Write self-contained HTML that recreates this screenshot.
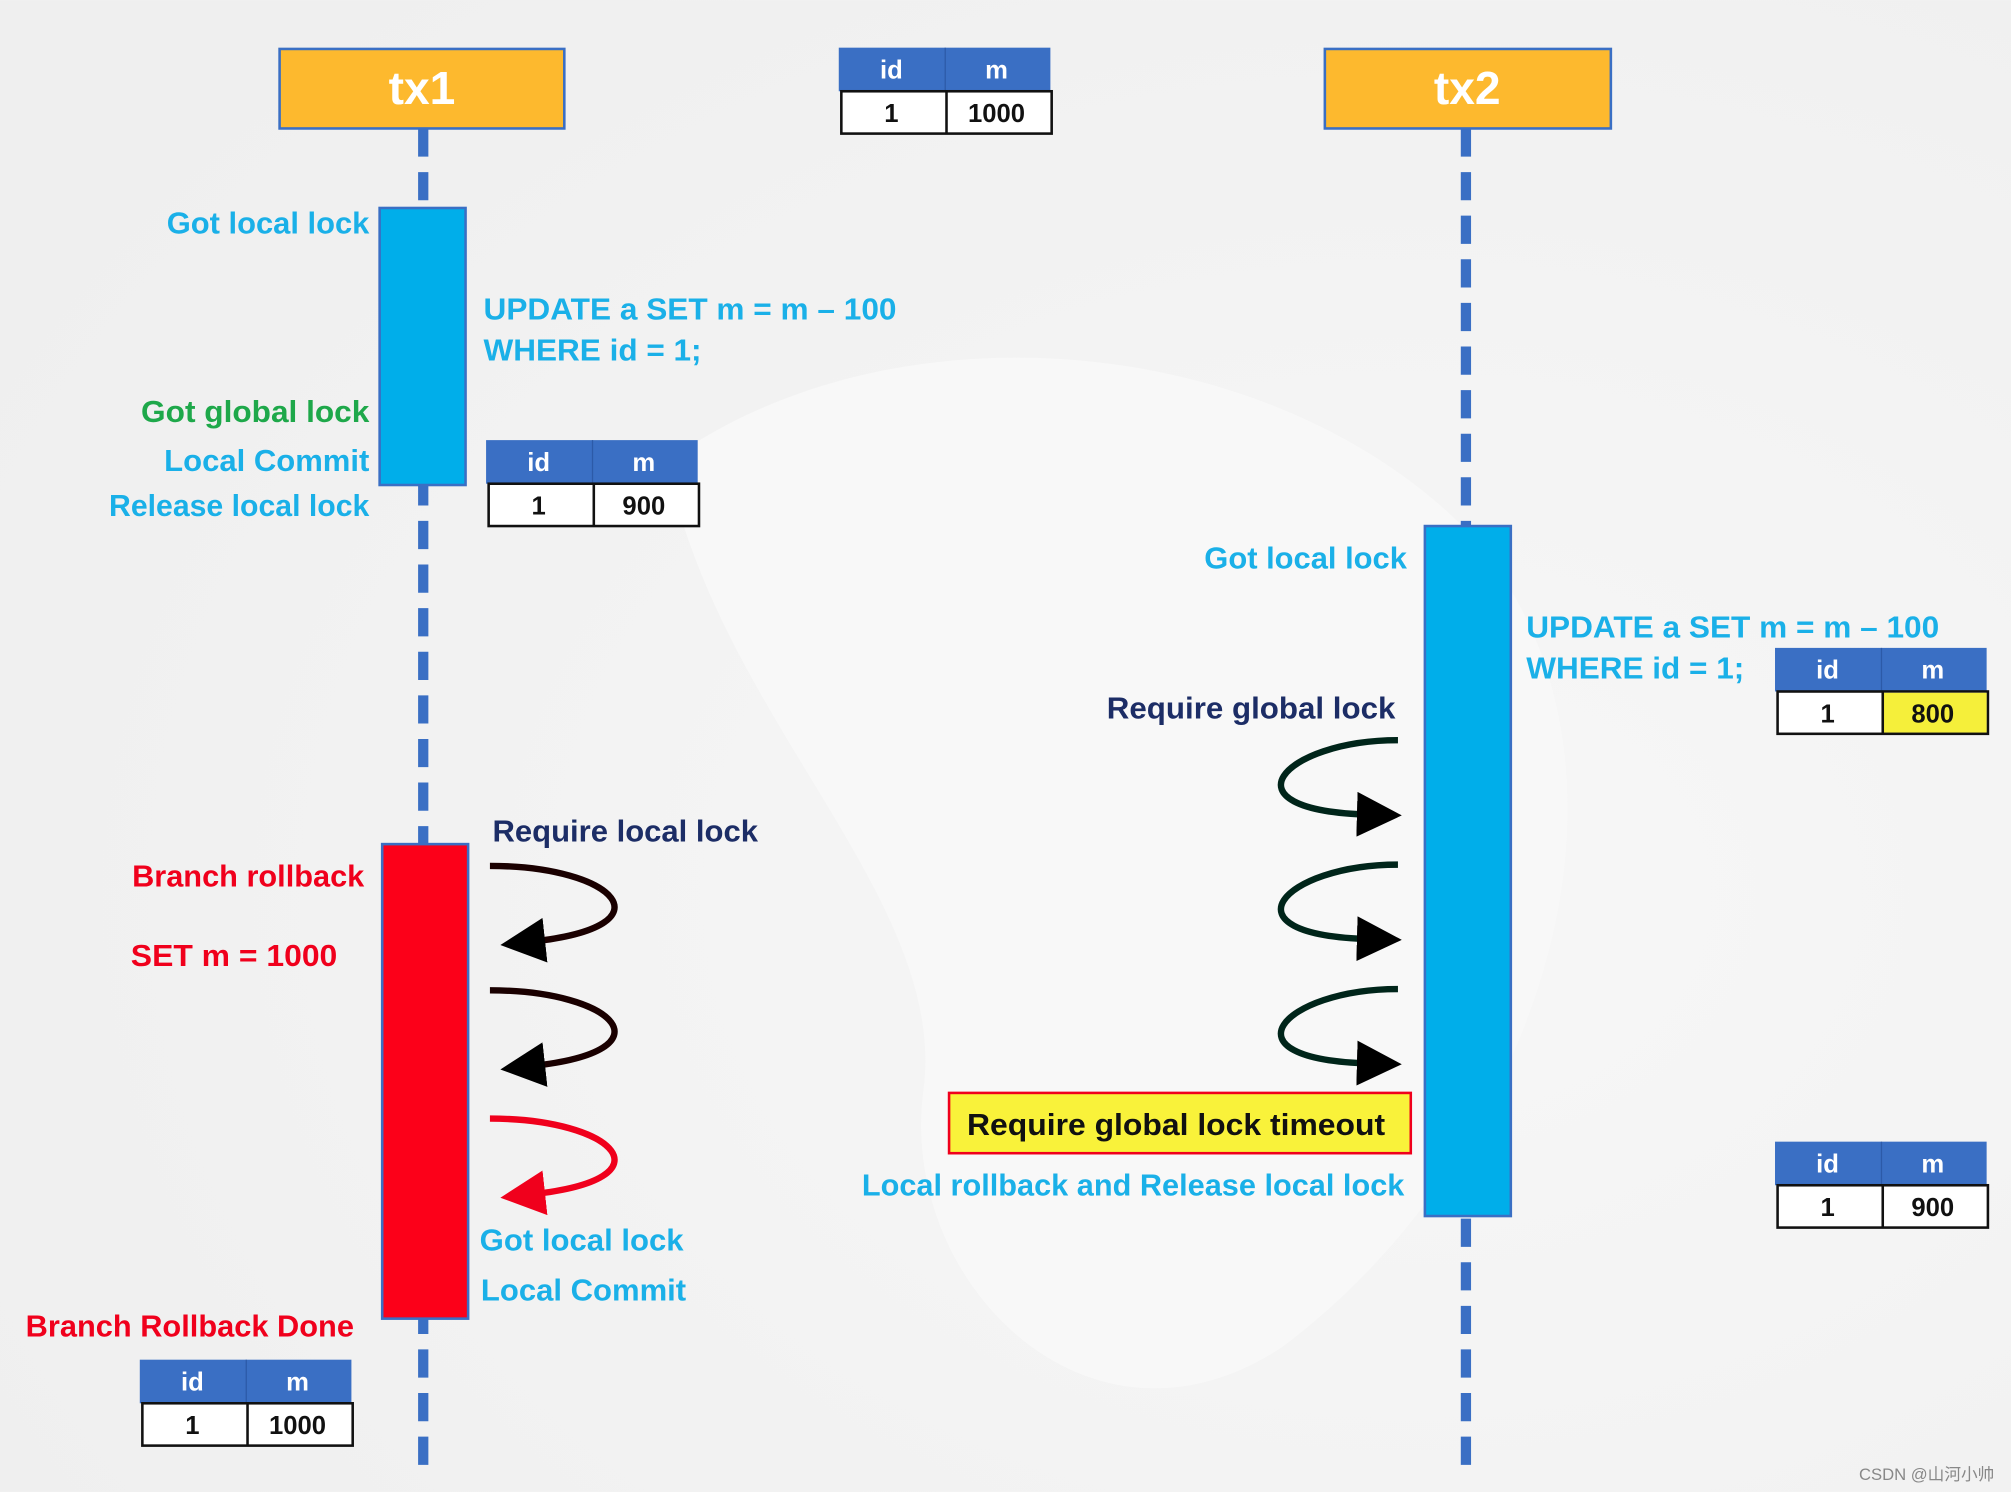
<!DOCTYPE html>
<html><head><meta charset="utf-8"><style>
html,body{margin:0;padding:0;background:#f3f3f3;}
svg{display:block;}
text{font-family:"Liberation Sans",sans-serif;font-weight:bold;}
</style></head><body>
<svg width="2011" height="1492" viewBox="0 0 1568 1163" xmlns="http://www.w3.org/2000/svg">
<defs>
<radialGradient id="bg" cx="0.7" cy="0.6" r="0.8"><stop offset="0" stop-color="#f7f7f7"/><stop offset="1" stop-color="#efefef"/></radialGradient>
<marker id="ak" markerWidth="7" markerHeight="7" refX="2" refY="3.5" orient="auto" markerUnits="strokeWidth"><path d="M0,0 L7,3.5 L0,7 z" fill="#000"/></marker>
<marker id="ar" markerWidth="7" markerHeight="7" refX="2" refY="3.5" orient="auto" markerUnits="strokeWidth"><path d="M0,0 L7,3.5 L0,7 z" fill="#f0001c"/></marker>
</defs>
<rect width="1568" height="1163" fill="url(#bg)"/>
<path d="M520,360 C700,230 1000,260 1150,420 C1300,600 1200,900 1000,1050 C850,1150 700,1000 720,850 C740,700 560,560 520,360z" fill="#f8f8f8"/>

<line x1="330" y1="100" x2="330" y2="1145" stroke="#3a6fc4" stroke-width="8" stroke-dasharray="22,12"/>
<line x1="1143" y1="100" x2="1143" y2="1145" stroke="#3a6fc4" stroke-width="8" stroke-dasharray="22,12"/>

<rect x="218" y="38" width="222" height="62" fill="#fdb92e" stroke="#3a6fc4" stroke-width="2"/>
<text x="329" y="81" font-size="36" fill="#fff" text-anchor="middle">tx1</text>
<rect x="1033" y="38" width="223" height="62" fill="#fdb92e" stroke="#3a6fc4" stroke-width="2"/>
<text x="1144" y="81" font-size="36" fill="#fff" text-anchor="middle">tx2</text>

<g font-size="20" text-anchor="middle">
<g transform="translate(654,37)">
<rect width="165" height="34" fill="#3a6fc4"/><line x1="83" y1="0" x2="83" y2="34" stroke="#2c5aa8"/>
<text x="41" y="24" fill="#fff">id</text><text x="123" y="24" fill="#fff">m</text>
<rect x="2" y="34" width="164" height="33" fill="#fff" stroke="#111" stroke-width="2"/><line x1="84" y1="34" x2="84" y2="67" stroke="#111" stroke-width="2"/>
<text x="41" y="58" fill="#111">1</text><text x="123" y="58" fill="#111">1000</text></g>
<g transform="translate(379,343)">
<rect width="165" height="34" fill="#3a6fc4"/><line x1="83" y1="0" x2="83" y2="34" stroke="#2c5aa8"/>
<text x="41" y="24" fill="#fff">id</text><text x="123" y="24" fill="#fff">m</text>
<rect x="2" y="34" width="164" height="33" fill="#fff" stroke="#111" stroke-width="2"/><line x1="84" y1="34" x2="84" y2="67" stroke="#111" stroke-width="2"/>
<text x="41" y="58" fill="#111">1</text><text x="123" y="58" fill="#111">900</text></g>
<g transform="translate(1384,505)">
<rect width="165" height="34" fill="#3a6fc4"/><line x1="83" y1="0" x2="83" y2="34" stroke="#2c5aa8"/>
<text x="41" y="24" fill="#fff">id</text><text x="123" y="24" fill="#fff">m</text>
<rect x="2" y="34" width="164" height="33" fill="#fff" stroke="#111" stroke-width="2"/><rect x="84" y="35" width="81" height="31" fill="#f5ef3a"/><line x1="84" y1="34" x2="84" y2="67" stroke="#111" stroke-width="2"/>
<text x="41" y="58" fill="#111">1</text><text x="123" y="58" fill="#111">800</text></g>
<g transform="translate(1384,890)">
<rect width="165" height="34" fill="#3a6fc4"/><line x1="83" y1="0" x2="83" y2="34" stroke="#2c5aa8"/>
<text x="41" y="24" fill="#fff">id</text><text x="123" y="24" fill="#fff">m</text>
<rect x="2" y="34" width="164" height="33" fill="#fff" stroke="#111" stroke-width="2"/><line x1="84" y1="34" x2="84" y2="67" stroke="#111" stroke-width="2"/>
<text x="41" y="58" fill="#111">1</text><text x="123" y="58" fill="#111">900</text></g>
<g transform="translate(109,1060)">
<rect width="165" height="34" fill="#3a6fc4"/><line x1="83" y1="0" x2="83" y2="34" stroke="#2c5aa8"/>
<text x="41" y="24" fill="#fff">id</text><text x="123" y="24" fill="#fff">m</text>
<rect x="2" y="34" width="164" height="33" fill="#fff" stroke="#111" stroke-width="2"/><line x1="84" y1="34" x2="84" y2="67" stroke="#111" stroke-width="2"/>
<text x="41" y="58" fill="#111">1</text><text x="123" y="58" fill="#111">1000</text></g>
</g>

<rect x="296" y="162" width="67" height="216" fill="#00aeea" stroke="#3a6fc4" stroke-width="2"/>
<rect x="298" y="658" width="67" height="370" fill="#fc0019" stroke="#3a6fc4" stroke-width="2"/>
<rect x="1111" y="410" width="67" height="538" fill="#00aeea" stroke="#3a6fc4" stroke-width="2"/>

<g font-size="24" lengthAdjust="spacingAndGlyphs">
<text x="130" y="182" fill="#1ab0e8" textLength="158" lengthAdjust="spacingAndGlyphs">Got local lock</text>
<text x="377" y="249" fill="#1ab0e8" textLength="322" lengthAdjust="spacingAndGlyphs">UPDATE a SET m = m – 100</text>
<text x="377" y="281" fill="#1ab0e8" textLength="170" lengthAdjust="spacingAndGlyphs">WHERE id = 1;</text>
<text x="110" y="329" fill="#1ea84a" textLength="178" lengthAdjust="spacingAndGlyphs">Got global lock</text>
<text x="128" y="367" fill="#1ab0e8" textLength="160" lengthAdjust="spacingAndGlyphs">Local Commit</text>
<text x="85" y="402" fill="#1ab0e8" textLength="203" lengthAdjust="spacingAndGlyphs">Release local lock</text>
<text x="939" y="443" fill="#1ab0e8" textLength="158" lengthAdjust="spacingAndGlyphs">Got local lock</text>
<text x="1190" y="497" fill="#1ab0e8" textLength="322" lengthAdjust="spacingAndGlyphs">UPDATE a SET m = m – 100</text>
<text x="1190" y="529" fill="#1ab0e8" textLength="170" lengthAdjust="spacingAndGlyphs">WHERE id = 1;</text>
<text x="863" y="560" fill="#1c2d66" textLength="225" lengthAdjust="spacingAndGlyphs">Require global lock</text>
<text x="384" y="656" fill="#1c2d66" textLength="207" lengthAdjust="spacingAndGlyphs">Require local lock</text>
<text x="103" y="691" fill="#f0001c" textLength="181" lengthAdjust="spacingAndGlyphs">Branch rollback</text>
<text x="102" y="753" fill="#f0001c" textLength="161" lengthAdjust="spacingAndGlyphs">SET m = 1000</text>
<text x="374" y="975" fill="#1ab0e8" textLength="159" lengthAdjust="spacingAndGlyphs">Got local lock</text>
<text x="375" y="1014" fill="#1ab0e8" textLength="160" lengthAdjust="spacingAndGlyphs">Local Commit</text>
<text x="20" y="1042" fill="#f0001c" textLength="256" lengthAdjust="spacingAndGlyphs">Branch Rollback Done</text>
<text x="672" y="932" fill="#1ab0e8" textLength="423" lengthAdjust="spacingAndGlyphs">Local rollback and Release local lock</text>
</g>
<rect x="740" y="852" width="360" height="47" fill="#f9f23a" stroke="#f0001c" stroke-width="2"/>
<text x="754" y="885" font-size="24" fill="#111" textLength="326" lengthAdjust="spacingAndGlyphs">Require global lock timeout</text>

<g fill="none" stroke-width="5">
<path d="M382,675 C480,675 525,722 415,734" stroke="#1a0000" marker-end="url(#ak)"/>
<path d="M382,772 C480,772 525,819 415,831" stroke="#1a0000" marker-end="url(#ak)"/>
<path d="M382,872 C480,872 525,919 415,931" stroke="#f0001c" marker-end="url(#ar)"/>
<path d="M1090,577 C1000,577 950,632 1068,635" stroke="#00251a" marker-end="url(#ak)"/>
<path d="M1090,674 C1000,674 950,729 1068,732" stroke="#00251a" marker-end="url(#ak)"/>
<path d="M1090,771 C1000,771 950,826 1068,829" stroke="#00251a" marker-end="url(#ak)"/>
</g>
<text x="1555" y="1154" font-size="13" fill="#888" text-anchor="end" style="font-weight:normal;font-family:'Liberation Sans','Noto Sans CJK SC',sans-serif">CSDN @山河小帅</text>
</svg>
</body></html>
